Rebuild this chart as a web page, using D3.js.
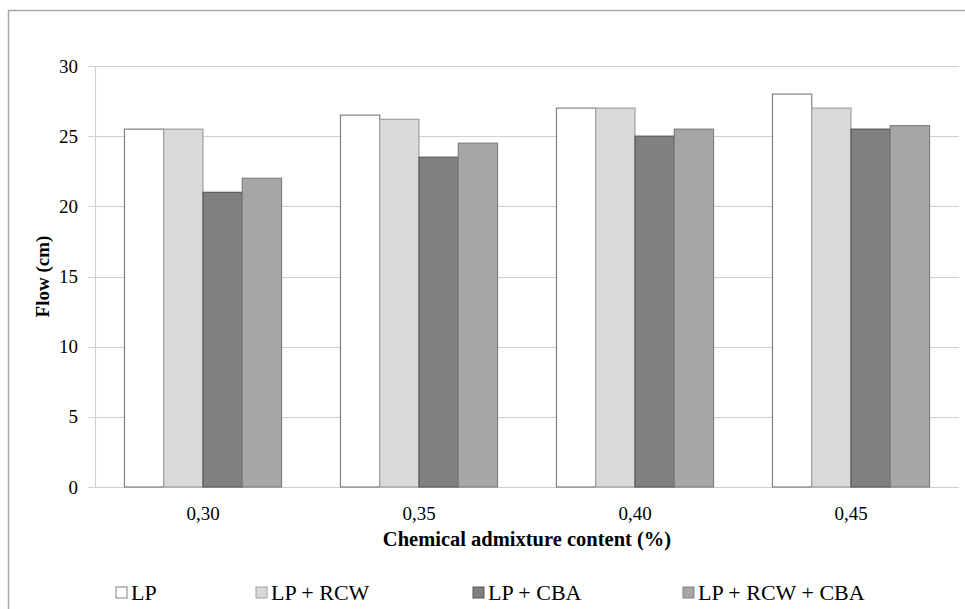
<!DOCTYPE html>
<html lang="en">
<head>
<meta charset="utf-8">
<title>Flow</title>
<script src="https://d3js.org/d3.v7.min.js"></script>
<style>
  body { margin: 0; background: #fff; }
</style>
</head>
<body>
<div class="chart"></div>
<script>
// data
var categories = ["0,30", "0,35", "0,40", "0,45"];
var seriesNames = ["LP", "LP + RCW", "LP + CBA", "LP + RCW + CBA"];
var lp       = [25.5, 26.5, 27.0, 28.0];
var lpRcw    = [25.5, 26.2, 27.0, 27.0];
var lpCba    = [21.0, 23.5, 25.0, 25.5];
var lpRcwCba = [22.0, 24.5, 25.5, 25.75];
var yTicks = [0, 5, 10, 15, 20, 25, 30];

var fills = ["#ffffff", "#d9d9d9", "#808080", "#a6a6a6"];
var strokes = ["#808080", "#a0a0a0", "#595959", "#808080"];

var series = [lp, lpRcw, lpCba, lpRcwCba];

const width = 965, height = 609;
const margin = {left: 95, right: 6, top: 66, bottom: 122};

const svg = d3.select(".chart").append("svg")
    .attr("width", width)
    .attr("height", height)
    .attr("font-family", "'Liberation Serif', 'DejaVu Serif', serif");

/* outer frame (only top and left show) */
svg.append("path")
    .attr("d", "M8.5," + height + " V10.5 H" + width)
    .attr("fill", "none")
    .attr("stroke", "#a6a6a6")
    .attr("stroke-width", 1.5);

// gap width ~150% like the original
const step = (width - margin.right - margin.left) / categories.length;
const barW = step / (4 + 1.5);

const x = d3.scaleBand()
    .domain(categories)
    .range([margin.left, width - margin.right]);

const y = d3.scaleLinear()
    .domain([0, 30])
    .range([height - margin.bottom, margin.top]);

/*gridlines*/
svg.append("g")
    .selectAll("line")
    .data(yTicks)
    .enter()
    .append("line")
    .attr("x1", margin.left - 7)
    .attr("x2", width - margin.right)
    .attr("y1", d => Math.round(y(d)) + 0.5)
    .attr("y2", d => Math.round(y(d)) + 0.5)
    .attr("stroke", "#d0d0d0")
    .attr("stroke-width", 1.2);

/*y axis line*/
svg.append("line")
    .attr("x1", margin.left + 0.5).attr("x2", margin.left + 0.5)
    .attr("y1", y(30)).attr("y2", y(0))
    .attr("stroke", "#d0d0d0")
    .attr("stroke-width", 1.2);

/*y tick labels*/
svg.append("g")
    .selectAll("text")
    .data(yTicks)
    .enter()
    .append("text")
    .attr("x", 78)
    .attr("y", d => y(d) + 6.5)
    .attr("text-anchor", "end")
    .attr("font-size", "19px")
    .text(d => d);

/*bars*/
series.forEach(function(vals, s) {
    svg.append("g")
        .selectAll("rect")
        .data(vals)
        .enter()
        .append("rect")
        .attr("x", (d, i) => x(categories[i]) + barW * 0.75 + s * barW)
        .attr("y", d => y(d))
        .attr("width", barW)
        .attr("height", d => y(0) - y(d))
        .attr("fill", fills[s])
        .attr("stroke", strokes[s])
        .attr("stroke-width", 1.2);
});

/*x labels*/
svg.append("g")
    .selectAll("text")
    .data(categories)
    .enter()
    .append("text")
    .attr("x", d => x(d) + x.bandwidth() / 2)
    .attr("y", 520)
    .attr("text-anchor", "middle")
    .attr("font-size", "19px")
    .text(d => d);

/*axis titles*/
svg.append("text")
    .attr("x", (margin.left + width - margin.right) / 2)
    .attr("y", 546)
    .attr("text-anchor", "middle")
    .attr("font-size", "20.5px")
    .attr("font-weight", "bold")
    .text("Chemical admixture content (%)");

svg.append("text")
    .attr("transform", "translate(49," + (y(15)) + ") rotate(-90)")
    .attr("text-anchor", "middle")
    .attr("font-size", "19px")
    .attr("font-weight", "bold")
    .text("Flow (cm)");

/*legend*/
var legendX = [116, 256, 473, 683];
var lg = svg.append("g")
    .selectAll("g")
    .data(seriesNames)
    .enter()
    .append("g")
    .attr("transform", (d, i) => "translate(" + legendX[i] + ",587)");

lg.append("rect")
    .attr("width", 11).attr("height", 11)
    .attr("fill", (d, i) => fills[i])
    .attr("stroke", (d, i) => strokes[i])
    .attr("stroke-width", 1);

lg.append("text")
    .attr("x", 15)
    .attr("y", 13)
    .attr("font-size", "22px")
    .text(d => d);
</script>
</body>
</html>
